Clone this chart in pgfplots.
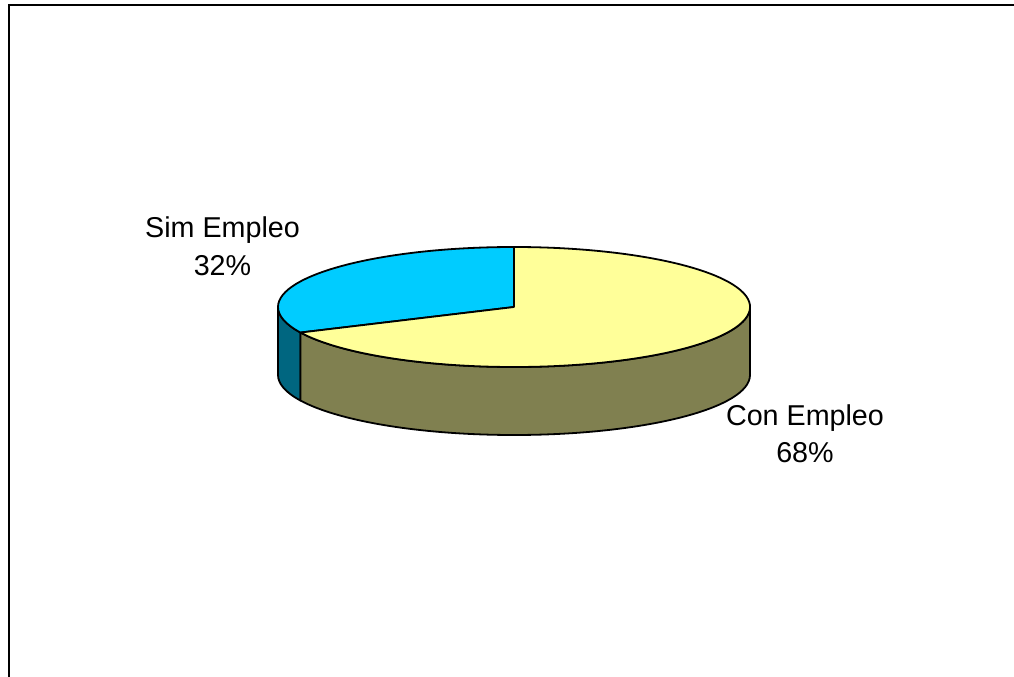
\documentclass[border=0pt]{standalone}
\usepackage{pgfplots}
\usepackage{pgfplotstable}
\pgfplotsset{compat=1.18}
\usepackage{fontspec}
\setmainfont{Liberation Sans}
\definecolor{ctop}{RGB}{255,255,153}
\definecolor{cside}{RGB}{128,128,80}
\definecolor{stop}{RGB}{0,204,255}
\definecolor{sside}{RGB}{0,102,128}

\pgfplotstableread{
label value
Con 68
Sim 32
}\piedata
\newcommand\lblfont{\fontsize{28.7bp}{34bp}\selectfont}

\begin{document}
\begin{tikzpicture}
\pgfplotstablegetelem{0}{value}\of\piedata \let\conv\pgfplotsretval
\pgfplotstablegetelem{1}{value}\of\piedata \let\simv\pgfplotsretval
\pgfmathsetmacro\total{\conv+\simv}
\pgfmathsetmacro\split{90+360*\simv/\total}
\begin{axis}[
  x=1bp, y=1bp, xmin=0, xmax=1014, ymin=0, ymax=677,
  hide axis, clip=false, at={(0,0)}, anchor=south west
]
% frame
\draw[line width=2.2bp] (axis cs:9,0) -- (axis cs:9,672) -- (axis cs:1014,672);
% side walls
\filldraw[fill=sside, draw=black, line width=1.8bp, line join=round]
  (axis cs:278,370) arc[start angle=180, end angle=\split, x radius=236bp, y radius=60bp]
  -- ++(0,-68bp) arc[start angle=\split, end angle=180, x radius=236bp, y radius=60bp] -- cycle;
\filldraw[fill=cside, draw=black, line width=1.8bp, line join=round]
  (axis cs:514,370) ++(\split:236bp and 60bp) arc[start angle=\split, end angle=360, x radius=236bp, y radius=60bp]
  -- ++(0,-68bp) arc[start angle=360, end angle=\split, x radius=236bp, y radius=60bp] -- cycle;
% tops
\filldraw[fill=stop, draw=black, line width=1.8bp, line join=round]
  (axis cs:514,370) -- (axis cs:514,430) arc[start angle=90, end angle=\split, x radius=236bp, y radius=60bp] -- cycle;
\filldraw[fill=ctop, draw=black, line width=1.8bp, line join=round]
  (axis cs:514,370) -- ++(\split:236bp and 60bp) arc[start angle=\split, end angle=450, x radius=236bp, y radius=60bp] -- cycle;
% labels
\node[anchor=base, inner sep=0pt, font=\lblfont] at (axis cs:222.5,439.3) {Sim Empleo};
\node[anchor=base, inner sep=0pt, font=\lblfont] at (axis cs:222.5,401.3) {\simv\%};
\node[anchor=base, inner sep=0pt, font=\lblfont] at (axis cs:805,252) {Con Empleo};
\node[anchor=base, inner sep=0pt, font=\lblfont] at (axis cs:805,214.3) {\conv\%};
\end{axis}
\pgfresetboundingbox
\path[use as bounding box] (0,0) rectangle (1014bp,677bp);
\end{tikzpicture}
\end{document}
